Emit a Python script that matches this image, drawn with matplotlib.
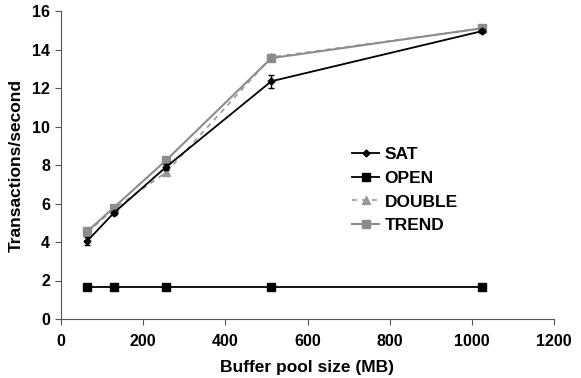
import matplotlib
matplotlib.use('Agg')
import matplotlib.pyplot as plt
from matplotlib.lines import Line2D

plt.rcParams['font.family'] = ['Liberation Sans', 'DejaVu Sans']
plt.rcParams['font.weight'] = 'bold'

buffer_mb = [64, 128, 256, 512, 1024]
sat = [4.05, 5.5, 7.9, 12.35, 14.95]
sat_err = [0.2, 0.1, 0.15, 0.35, 0.1]
open_ = [1.65, 1.65, 1.65, 1.65, 1.65]
double = [4.5, 5.7, 7.62, 13.6, 15.1]
trend = [4.55, 5.78, 8.25, 13.55, 15.1]
xticks = [0, 200, 400, 600, 800, 1000, 1200]
yticks = [0, 2, 4, 6, 8, 10, 12, 14, 16]

fig = plt.figure(figsize=(5.81, 3.78), dpi=100)
ax = fig.add_axes([61 / 581, 1 - 319 / 378, (554 - 61) / 581, (319 - 11) / 378])

ax.plot(buffer_mb, double, color='#999999', ls=(0, (3, 3)), lw=1.2,
        marker='^', ms=5.5, zorder=2)
ax.plot(buffer_mb, trend, color='#8c8c8c', lw=1.5, marker='s', ms=6,
        zorder=3)
ax.errorbar(buffer_mb, sat, yerr=sat_err, color='black', lw=1.3,
            marker='D', ms=3.5, capsize=2, elinewidth=1, zorder=4)
ax.plot(buffer_mb, open_, color='black', lw=1.3, marker='s', ms=5.5,
        zorder=4)

ax.set_xlim(0, 1200)
ax.set_ylim(0, 16)
ax.set_xticks(xticks)
ax.set_xticklabels([str(v) for v in xticks], fontsize=11.5, fontweight='bold')
ax.set_yticks(yticks)
ax.set_yticklabels([str(v) for v in yticks], fontsize=11.5, fontweight='bold')
for s in ['top', 'right']:
    ax.spines[s].set_visible(False)
for s in ['left', 'bottom']:
    ax.spines[s].set_color('#555555')
ax.tick_params(direction='out', length=4, color='#555555')
ax.tick_params(axis='x', pad=7)
ax.tick_params(axis='y', pad=4)
ax.set_xlabel('Buffer pool size (MB)', fontsize=12.5, fontweight='bold',
              labelpad=8)
ax.set_ylabel('Transactions/second', fontsize=12.5, fontweight='bold',
              labelpad=6)

handles = [
    Line2D([], [], color='black', lw=1.3, marker='D', ms=3.5),
    Line2D([], [], color='black', lw=1.3, marker='s', ms=5.5),
    Line2D([], [], color='#999999', lw=1.2, ls=(0, (3, 3)), marker='^', ms=5.5),
    Line2D([], [], color='#8c8c8c', lw=1.5, marker='s', ms=6),
]
ax.legend(handles, ['SAT', 'OPEN', 'DOUBLE', 'TREND'], frameon=False,
          loc='upper left', bbox_to_anchor=(0.558, 0.61), fontsize=12.5,
          handlelength=1.6, labelspacing=0.5, handletextpad=0.3)

fig.savefig('out.png', dpi=100)
